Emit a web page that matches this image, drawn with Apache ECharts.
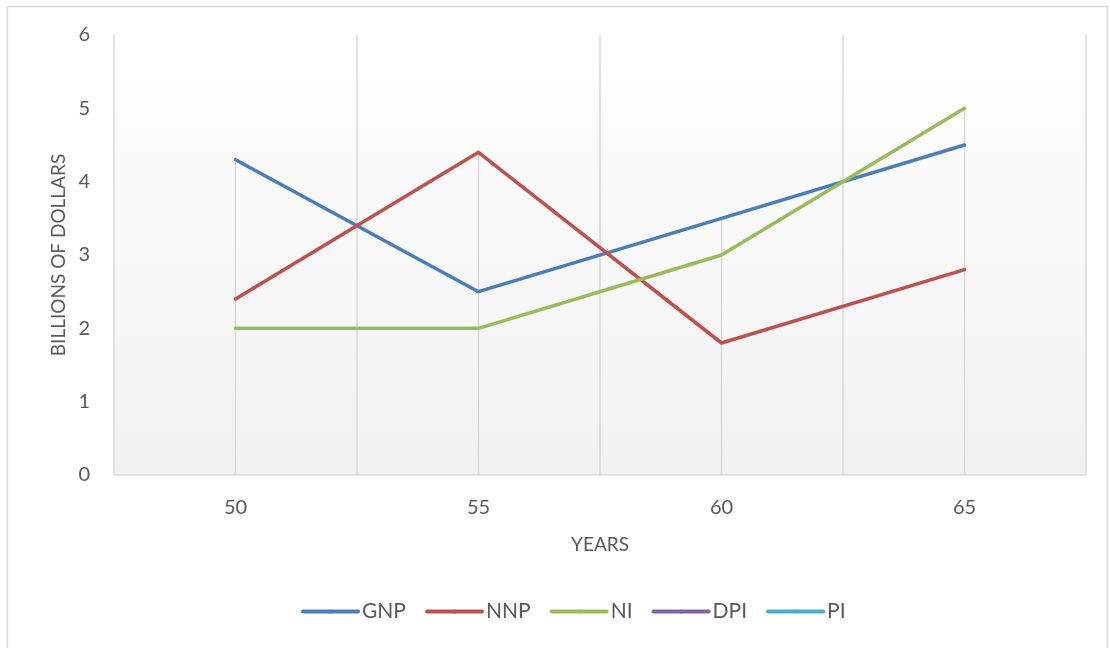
<!DOCTYPE html>
<html>
<head>
<meta charset="utf-8">
<script src="https://cdn.jsdelivr.net/npm/echarts@6/dist/echarts.min.js"></script>
<style>html,body{margin:0;padding:0;background:#fff;}#c{width:1110px;height:648px;}</style>
</head>
<body>
<div id="c"></div>
<script>
const years = ['50', '55', '60', '65'];
const gnp = [4.3, 2.5, 3.5, 4.5];
const nnp = [2.4, 4.4, 1.8, 2.8];
const ni = [2, 2, 3, 5];
const dpi = [];
const pi = [];
const yTicks = [0, 1, 2, 3, 4, 5, 6];

const dropLines = years.map((_, i) => Math.max(gnp[i], nnp[i], ni[i]));
const font = 'Lato, "Open Sans", sans-serif';
const chart = echarts.init(document.getElementById('c'));
const lineSeries = (name, data, color) => ({
  name, type: 'line', data, symbol: 'none', z: 5,
  lineStyle: { color, width: 3.5, cap: 'round', join: 'round' },
  itemStyle: { color }
});
chart.setOption({
  animation: false,
  textStyle: { fontFamily: font },
  graphic: [{
    type: 'rect', shape: { x: 7.5, y: 6.5, width: 1100, height: 660 },
    style: { fill: 'none', stroke: '#d9d9d9', lineWidth: 1.5 }, silent: true
  }],
  grid: {
    left: 114, right: 24, top: 35, bottom: 173, show: true, borderWidth: 0,
    backgroundColor: new echarts.graphic.LinearGradient(0, 0, 0, 1, [
      { offset: 0, color: '#ffffff' }, { offset: 1, color: '#f1f1f1' }
    ])
  },
  legend: {
    data: ['GNP', 'NNP', 'NI', 'DPI', 'PI'],
    bottom: 21, left: 296, itemWidth: 55, itemHeight: 5, itemGap: 19,
    lineStyle: { width: 4, cap: 'round' },
    textStyle: { fontSize: 21, color: '#595959', fontFamily: font, padding: [0, 0, 0, -1] }
  },
  xAxis: {
    type: 'category', data: years, boundaryGap: true,
    name: 'YEARS', nameLocation: 'middle', nameGap: 60, nameMoveOverlap: false,
    nameTextStyle: { fontSize: 19, color: '#595959' },
    axisLine: { lineStyle: { color: '#d9d9d9', width: 1.5 } },
    axisTick: { show: false },
    axisLabel: { fontSize: 20, color: '#595959', margin: 23 },
    splitLine: { show: true, lineStyle: { color: '#d9d9d9', width: 1.5 } }
  },
  yAxis: {
    type: 'value', min: yTicks[0], max: yTicks[yTicks.length - 1], interval: 1,
    name: 'BILLIONS OF DOLLARS', nameLocation: 'middle', nameGap: 46, nameMoveOverlap: false,
    nameTextStyle: { fontSize: 19, color: '#595959' },
    axisLine: { show: false }, axisTick: { show: false },
    axisLabel: { fontSize: 20, color: '#595959', margin: 24 },
    splitLine: { show: false }
  },
  series: [
    { name: 'drop', type: 'bar', data: dropLines, barWidth: 1.5, silent: true, z: 1,
      itemStyle: { color: '#d9d9d9' } },
    lineSeries('GNP', gnp, '#4a7ebb'),
    lineSeries('NNP', nnp, '#c0504d'),
    lineSeries('NI', ni, '#9bbb59'),
    lineSeries('DPI', dpi, '#8064a2'),
    lineSeries('PI', pi, '#4bacc6')
  ]
});
</script>
</body>
</html>
